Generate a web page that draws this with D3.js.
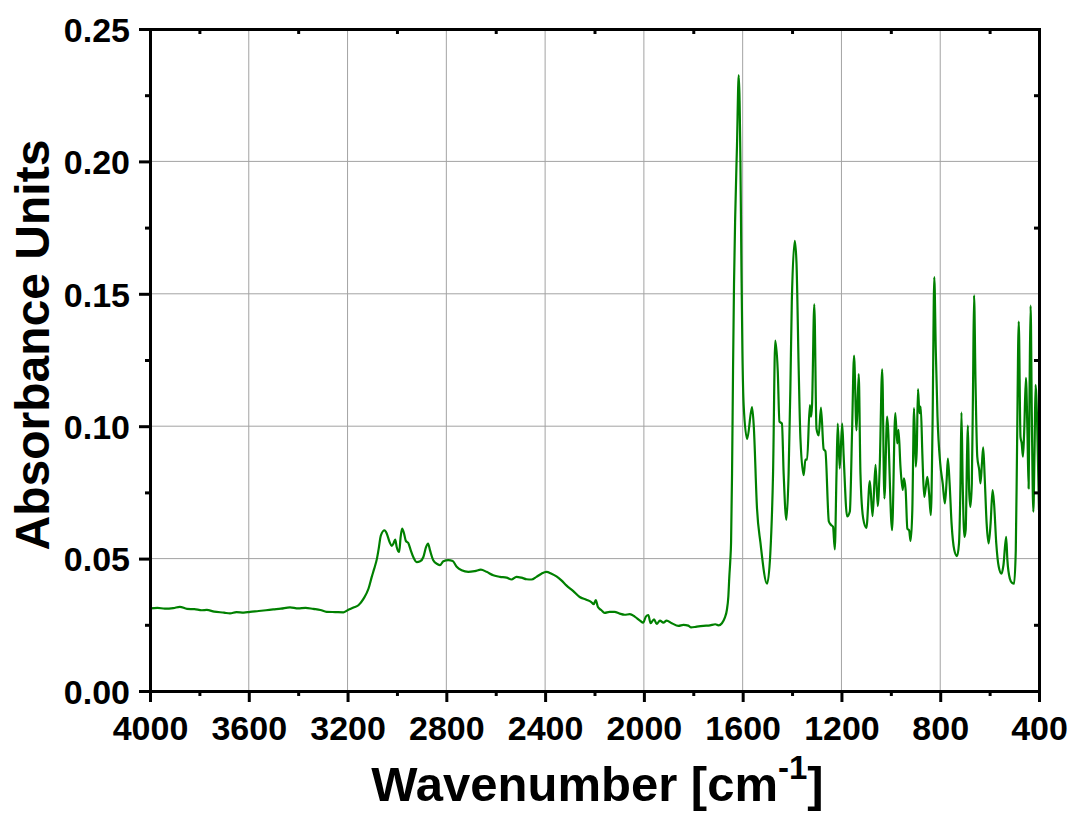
<!DOCTYPE html>
<html>
<head>
<meta charset="utf-8">
<script src="https://cdn.jsdelivr.net/npm/d3@7"></script>
<style>
	body { margin: 0; background: #fff; }
	text { font-family: 'Liberation Sans', Arial, sans-serif; font-weight: bold; fill: #000; }
</style>
</head>
<body>
<div id="chart"></div>
<script>
// spectrum (wavenumber, absorbance)
var wavenumbers = [4000,3970,3940,3906,3879,3850,3820,3790,3770,3740,3700,3676,3650,3620,3595,3560,3530,3501,3470,3433,3400,3370,3339,3310,3285,3250,3217,3200,3176,3156,3135,3115,3102,3092,3081,3075,3065,3050,3041,3030,3021,3014,3007,3001,2991,2985,2979,2971,2964,2954,2944,2933,2920,2906,2893,2882,2874,2866,2853,2836,2826,2812,2792,2774,2758,2738,2711,2684,2660,2637,2610,2583,2556,2536,2516,2496,2475,2455,2435,2415,2395,2374,2354,2334,2314,2287,2260,2233,2213,2203,2195,2186,2172,2159,2139,2119,2098,2078,2057,2037,2016,2003,1992,1982,1973,1959,1948,1935,1921,1908,1887,1860,1840,1820,1809,1786,1759,1732,1711,1698,1684,1673,1664,1658,1654,1650,1647,1643,1639,1635,1630,1623,1616,1609,1605,1601,1596,1582,1562,1555,1542,1528,1501,1488,1477,1468,1458,1451,1441,1434,1423,1414,1407,1401,1389,1382,1373,1366,1353,1346,1339,1328,1323,1319,1310,1301,1292,1283,1272,1265,1251,1242,1234,1227,1220,1215,1207,1197,1191,1177,1166,1157,1149,1139,1130,1123,1112,1099,1085,1074,1062,1053,1045,1035,1026,1015,995,982,974,969,961,952,947,940,933,926,920,913,906,899,895,890,884,879,872,865,860,852,845,838,831,824,818,811,800,790,781,774,769,762,754,743,732,724,718,714,709,702,697,691,688,683,678,672,667,663,657,650,642,637,631,626,620,612,604,596,588,582,573,563,552,544,533,528,518,509,501,494,489,482,475,470,465,460,453,447,442,438,434,429,423,418,414,408,400];
var absorbance = [0.0312,0.0314,0.0311,0.0313,0.0318,0.0310,0.0309,0.0305,0.0306,0.0300,0.0296,0.0293,0.0298,0.0296,0.0299,0.0302,0.0305,0.0308,0.0311,0.0316,0.0312,0.0314,0.0310,0.0306,0.0299,0.0298,0.0297,0.0305,0.0315,0.0324,0.0349,0.0387,0.0431,0.0462,0.0500,0.0531,0.0588,0.0607,0.0594,0.0563,0.0548,0.0557,0.0572,0.0544,0.0525,0.0582,0.0613,0.0594,0.0567,0.0559,0.0531,0.0504,0.0487,0.0490,0.0506,0.0544,0.0557,0.0531,0.0494,0.0479,0.0475,0.0490,0.0494,0.0491,0.0469,0.0456,0.0450,0.0453,0.0458,0.0450,0.0437,0.0431,0.0428,0.0421,0.0431,0.0428,0.0422,0.0421,0.0431,0.0443,0.0450,0.0443,0.0433,0.0418,0.0399,0.0378,0.0355,0.0345,0.0336,0.0328,0.0343,0.0317,0.0305,0.0295,0.0299,0.0299,0.0292,0.0288,0.0290,0.0281,0.0266,0.0258,0.0281,0.0287,0.0256,0.0271,0.0253,0.0266,0.0258,0.0266,0.0256,0.0246,0.0250,0.0247,0.0240,0.0243,0.0246,0.0248,0.0252,0.0248,0.0256,0.0275,0.0306,0.0357,0.0432,0.0495,0.056,0.082,0.121,0.154,0.180,0.206,0.2326,0.1993,0.160,0.128,0.108,0.0952,0.1072,0.100,0.069,0.056,0.0405,0.052,0.082,0.1323,0.121,0.1017,0.101,0.082,0.0646,0.082,0.1134,0.147,0.170,0.1616,0.121,0.0952,0.0815,0.0874,0.0874,0.108,0.1036,0.108,0.146,0.099,0.0965,0.107,0.0913,0.0906,0.064,0.0627,0.062,0.0535,0.082,0.101,0.084,0.101,0.0887,0.0659,0.0678,0.0978,0.1267,0.0984,0.1197,0.082,0.0652,0.0616,0.0793,0.066,0.0854,0.0698,0.0848,0.1215,0.0727,0.1036,0.0607,0.1049,0.0935,0.0986,0.0847,0.0759,0.0803,0.0759,0.0613,0.0607,0.0567,0.0683,0.1068,0.0847,0.091,0.114,0.1049,0.1074,0.0885,0.0733,0.0759,0.0809,0.0746,0.0664,0.101,0.1563,0.1288,0.1036,0.086,0.0784,0.0708,0.0796,0.0878,0.0784,0.0632,0.0532,0.0509,0.0557,0.0784,0.1052,0.0784,0.0582,0.0607,0.091,0.1002,0.0759,0.0695,0.0784,0.1162,0.1494,0.1162,0.0885,0.0834,0.0784,0.086,0.092,0.0809,0.0632,0.0557,0.0632,0.0759,0.0708,0.0557,0.0469,0.0443,0.0475,0.0582,0.0494,0.0424,0.0408,0.0405,0.0532,0.091,0.1395,0.096,0.0935,0.0885,0.0979,0.1183,0.0986,0.0765,0.1162,0.1455,0.1036,0.0677,0.091,0.1156,0.1036,0.0683];

var xTicks = [4000,3600,3200,2800,2400,2000,1600,1200,800,400];
var xMinorTicks = [3800,3400,3000,2600,2200,1800,1400,1000,600];
var yTicks = [0.00,0.05,0.10,0.15,0.20,0.25];
var yMinorTicks = [0.025,0.075,0.125,0.175,0.225];

var fmt = {
	width: 1072,
	height: 814,
	left: 150,
	right: 1039,
	top: 29,
	bottom: 691,
	clr_line: '#008000',
	clr_grid: '#a3a3a3',
	clr_axis: '#000'
};

function drawchart() {
	var svg = d3.select('#chart').append('svg')
		.attr('width', fmt.width)
		.attr('height', fmt.height);

	var xScale = d3.scaleLinear().domain([4000, 400]).range([fmt.left, fmt.right]);
	var yScale = d3.scaleLinear().domain([0, 0.25]).range([fmt.bottom, fmt.top]);

	// grid
	svg.append('g').selectAll('line')
		.data(xTicks.slice(1, -1))
		.join('line')
		.attr('x1', function(d) { return xScale(d); })
		.attr('x2', function(d) { return xScale(d); })
		.attr('y1', fmt.top)
		.attr('y2', fmt.bottom)
		.attr('stroke', fmt.clr_grid)
		.attr('stroke-width', 1);
	svg.append('g').selectAll('line')
		.data(yTicks.slice(1, -1))
		.join('line')
		.attr('x1', fmt.left)
		.attr('x2', fmt.right)
		.attr('y1', function(d) { return yScale(d); })
		.attr('y2', function(d) { return yScale(d); })
		.attr('stroke', fmt.clr_grid)
		.attr('stroke-width', 1);

	// spectrum
	var line = d3.line()
		.x(function(d, i) { return xScale(wavenumbers[i]); })
		.y(function(d) { return yScale(d); })
		.curve(d3.curveMonotoneX);
	svg.append('path')
		.datum(absorbance)
		.attr('d', line)
		.style('fill', 'none')
		.style('stroke', fmt.clr_line)
		.style('stroke-width', 2.2)
		.style('stroke-linejoin', 'round');

	// axes
	var xAxis = svg.append('g')
		.attr('transform', `translate(0,${fmt.bottom})`)
		.call(d3.axisBottom(xScale).tickValues(xTicks).tickSize(11).tickPadding(9)
			.tickFormat(d3.format('d')));
	var xMinor = svg.append('g')
		.attr('transform', `translate(0,${fmt.bottom})`)
		.call(d3.axisBottom(xScale).tickValues(xMinorTicks).tickSize(5).tickFormat(''));
	var yAxis = svg.append('g')
		.attr('transform', `translate(${fmt.left},0)`)
		.call(d3.axisLeft(yScale).tickValues(yTicks).tickSize(11).tickPadding(9)
			.tickFormat(d3.format('.2f')));
	var yMinor = svg.append('g')
		.attr('transform', `translate(${fmt.left},0)`)
		.call(d3.axisLeft(yScale).tickValues(yMinorTicks).tickSize(5).tickFormat(''));
	var topAxis = svg.append('g')
		.attr('transform', `translate(0,${fmt.top})`)
		.call(d3.axisBottom(xScale).tickValues(xMinorTicks).tickSize(5).tickFormat(''));
	var rightAxis = svg.append('g')
		.attr('transform', `translate(${fmt.right},0)`)
		.call(d3.axisRight(yScale).tickValues(yMinorTicks).tickSize(-5).tickFormat(''));

	[xAxis, xMinor, yAxis, yMinor, topAxis, rightAxis].forEach(function(g) {
		g.selectAll('.domain').attr('stroke', fmt.clr_axis).attr('stroke-width', 3);
		g.selectAll('.tick line').attr('stroke', fmt.clr_axis).attr('stroke-width', 3);
		g.selectAll('.tick text')
			.attr('font-family', "'Liberation Sans', Arial, sans-serif")
			.attr('font-weight', 'bold')
			.attr('font-size', 34)
			.attr('fill', '#000');
	});
	xAxis.selectAll('.tick text').attr('dy', '0.85em');
	yAxis.selectAll('.tick text').attr('dy', '0.36em');

	// titles
	var xt = svg.append('text')
		.attr('x', (fmt.left + fmt.right) / 2 + 3)
		.attr('y', 801)
		.attr('text-anchor', 'middle')
		.attr('font-size', 49);
	xt.append('tspan').text('Wavenumber [cm');
	xt.append('tspan').attr('font-size', 33).attr('dy', -22).text('-1');
	xt.append('tspan').attr('dy', 22).text(']');

	svg.append('text')
		.attr('transform', 'translate(49,345) rotate(-90)')
		.attr('text-anchor', 'middle')
		.attr('font-size', 48)
		.text('Absorbance Units');
}

drawchart();
</script>
</body>
</html>
